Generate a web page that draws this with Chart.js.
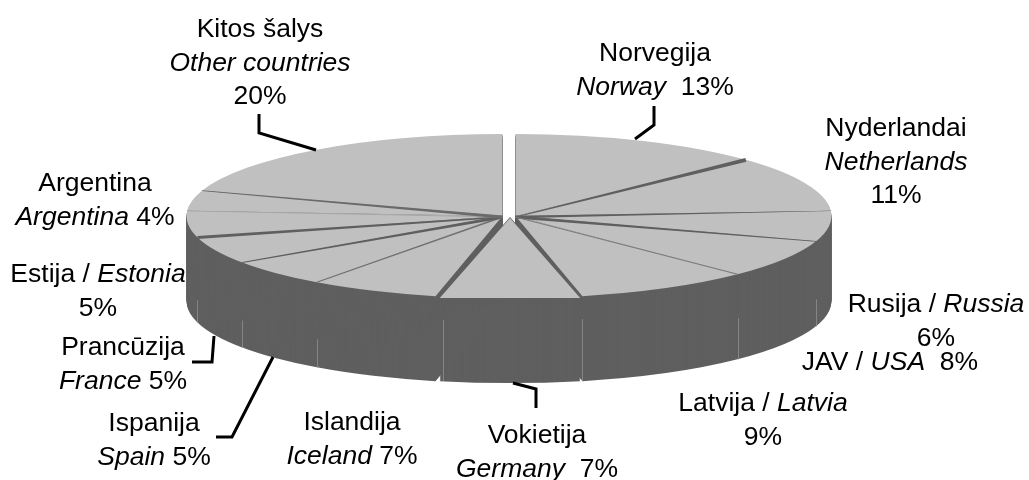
<!DOCTYPE html>
<html>
<head>
<meta charset="utf-8">
<script src="https://cdn.jsdelivr.net/npm/chart.js@4"></script>
<style>
  html, body { margin: 0; background: #fff; }
  #wrap { position: relative; width: 1029px; height: 480px; overflow: hidden; }
  .lbl { position: absolute; transform: translateX(-50%); white-space: nowrap; text-align: center;
         font: 26.5px/33.5px "Liberation Sans", Arial, sans-serif; color: #000; }
</style>
</head>
<body>
<div id="wrap"><canvas id="pie3d" width="1029" height="480"></canvas></div>
<script>
// clockwise from 12 o'clock
const countries = ["Norvegija", "Nyderlandai", "Rusija", "JAV", "Latvija", "Vokietija",
                   "Islandija", "Ispanija", "Prancūzija", "Estija", "Argentina", "Kitos šalys"];
const shares = [13, 11, 6, 7.6, 9, 6.8, 6.6, 5.4, 5.4, 5.2, 4, 20];
const sliceColors = ["#c0c0c0"];

const labelTexts = [
  "Norvegija<br><i>Norway</i>&nbsp; 13%",
  "Nyderlandai<br><i>Netherlands</i><br>11%",
  "Rusija / <i>Russia</i><br>6%",
  "JAV / <i>USA</i>&nbsp; 8%",
  "Latvija / <i>Latvia</i><br>9%",
  "Vokietija<br><i>Germany</i>&nbsp; 7%",
  "Islandija<br><i>Iceland</i> 7%",
  "Ispanija<br><i>Spain</i> 5%",
  "Prancūzija<br><i>France</i> 5%",
  "Estija / <i>Estonia</i><br>5%",
  "Argentina<br><i>Argentina</i> 4%",
  "Kitos šalys<br><i>Other countries</i><br>20%"
];
// centre x, top y of each label box
const labelPlaces = [[655, 36], [896, 111], [936, 287], [890, 345], [763, 386], [537, 418],
                     [352, 405], [154, 406], [123, 330], [98, 257], [95, 166], [260, 12]];

// leader lines
const leaders = [
  [[259, 114], [259, 133], [316, 150]],
  [[654, 106], [654, 125], [635, 139]],
  [[192, 362], [212, 362], [214, 336]],
  [[216, 437], [232, 437], [273, 357]],
  [[513, 383], [536, 389], [536, 408]]
];

const WALL = "#5f5f5f", CX = 509, CY = 216, RX = 316, RY = 82, DEPTH = 85;

// slice groups pull apart a little, that makes the white gap at the top
function shiftOf(el) {
  const c = Math.cos((el.startAngle + el.endAngle) / 2);
  if (c > 0.2) return [6.5, 0, 1];
  if (c < -0.2) return [-6.5, 0, 1];
  return [1, 2, 1.05];
}

function drawFace(ctx, el, s, dy) {
  const k = el.outerRadius;
  ctx.save();
  ctx.translate(CX + s[0], CY + dy);
  ctx.scale(RX * s[2] / k, RY / k);
  ctx.translate(-el.x, -el.y);
  el.draw(ctx);
  ctx.restore();
}

// dark edge between two slices: [slice index, width at centre, width at rim, colour]
const seams = [
  [0, 0.8, 4, WALL], [1, 2.5, 0.3, WALL], [2, 3, 0.6, WALL], [3, 1, 1, "#7a7a7a"],
  [6, 1.4, 1, "#707070"], [7, 3, 0.8, WALL], [8, 1.5, 3, WALL], [9, 0.8, 0.8, "#a4a4a4"], [10, 3, 0.7, "#6a6a6a"]
];
// faint vertical lines on the side wall: [slice index, gap below the rim]
const wallLines = [[2, 58], [3, 44], [4, 23], [5, 24], [6, 57], [7, 58], [8, 63]];

const pie3d = {
  id: "pie3d",
  beforeDatasetsDraw(chart) {
    const ctx = chart.ctx;
    const arcs = chart.getDatasetMeta(0).data;

    // side wall, same arcs stacked downwards in the dark colour
    arcs.forEach(el => {
      const s = shiftOf(el);
      const top = el.options;
      el.options = { ...top, backgroundColor: WALL };
      for (let d = DEPTH; d > 0; d--) drawFace(ctx, el, s, d);
      el.options = top;
    });

    // top face
    ctx.save();
    ctx.beginPath();
    ctx.rect(0, 0, 1029, CY + RY);
    ctx.clip();
    arcs.forEach(el => {
      const s = shiftOf(el);
      drawFace(ctx, el, s, s[1]);
    });
    ctx.restore();

    seams.forEach(([i, w0, w1, color]) => {
      const el = arcs[i];
      const s = shiftOf(el);
      const a = el.endAngle;
      const x0 = CX + s[0], y0 = CY + 1;
      const x1 = x0 + RX * Math.cos(a), y1 = CY + RY * Math.sin(a);
      const len = Math.hypot(x1 - x0, y1 - y0);
      const nx = -(y1 - y0) / len, ny = (x1 - x0) / len;
      ctx.fillStyle = color;
      ctx.beginPath();
      ctx.moveTo(x0 + nx * w0 / 2, y0 + ny * w0 / 2);
      ctx.lineTo(x1 + nx * w1 / 2, y1 + ny * w1 / 2);
      ctx.lineTo(x1 - nx * w1 / 2, y1 - ny * w1 / 2);
      ctx.lineTo(x0 - nx * w0 / 2, y0 - ny * w0 / 2);
      ctx.fill();
    });

    ctx.strokeStyle = "#858585";
    ctx.lineWidth = 1;
    wallLines.forEach(([i, gap]) => {
      const el = arcs[i];
      const s = shiftOf(el);
      const a = el.endAngle;
      const x = Math.round(CX + s[0] + RX * Math.cos(a)) + 0.5;
      const y = CY + RY * Math.sin(a);
      ctx.beginPath();
      ctx.moveTo(x, y + gap);
      ctx.lineTo(x, y + DEPTH);
      ctx.stroke();
    });

    ctx.strokeStyle = "#000";
    ctx.lineWidth = 3;
    ctx.lineJoin = "miter";
    leaders.forEach(pts => {
      ctx.beginPath();
      pts.forEach((p, n) => n ? ctx.lineTo(p[0], p[1]) : ctx.moveTo(p[0], p[1]));
      ctx.stroke();
    });
    return false;
  }
};

new Chart(document.getElementById("pie3d"), {
  type: "pie",
  data: {
    labels: countries,
    datasets: [{ data: shares, backgroundColor: sliceColors[0], borderWidth: 0 }]
  },
  options: {
    responsive: false,
    animation: false,
    plugins: { legend: { display: false }, tooltip: { enabled: false } }
  },
  plugins: [pie3d]
});

labelTexts.forEach((html, i) => {
  const d = document.createElement("div");
  d.className = "lbl";
  d.innerHTML = html;
  d.style.left = labelPlaces[i][0] + "px";
  d.style.top = labelPlaces[i][1] + "px";
  document.getElementById("wrap").appendChild(d);
});
</script>
</body>
</html>
